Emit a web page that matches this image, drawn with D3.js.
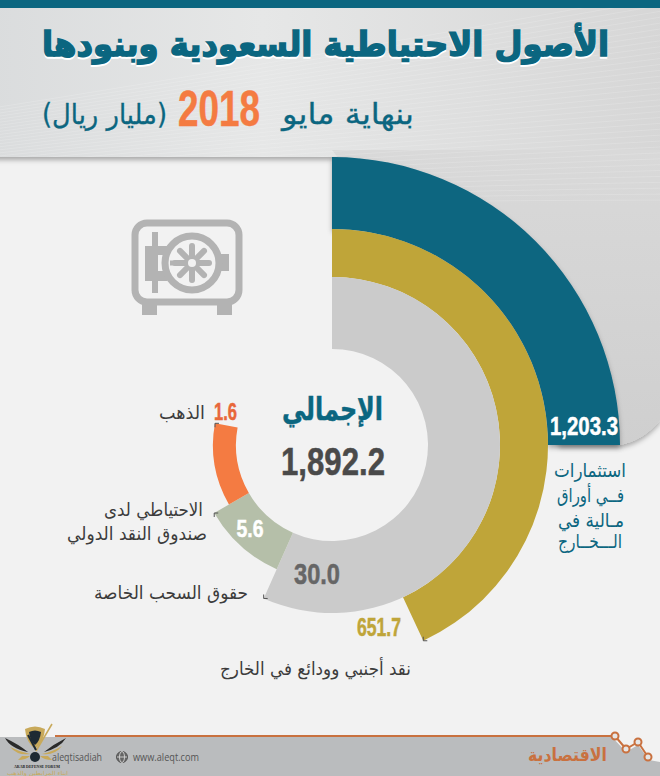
<!DOCTYPE html>
<html>
<head>
<meta charset="utf-8">
<script src="https://cdnjs.cloudflare.com/ajax/libs/d3/7.8.5/d3.min.js"></script>
<style>
html, body { margin: 0; padding: 0; background: #f2f2f2; }
svg { display: block; }
</style>
</head>
<body>
<svg id="chart" width="660" height="776"></svg>
<script>
// values
const CATEGORIES = ['invest', 'cash', 'sdr', 'imf', 'gold'];
const VALUES = [1203.3, 651.7, 30.0, 5.6, 1.6];
const TOTAL = 1892.2;
const TOTAL_LABEL = 'الإجمالي';
const TITLE = 'الأصول الاحتياطية السعودية وبنودها';
const SUBTITLE_A = 'بنهاية مايو';
const SUBTITLE_YEAR = '2018';
const SUBTITLE_B = '(مليار ريال)';

const CX = 332, CY = 445;
const AR_FONT = '"DejaVu Sans", sans-serif';
const NUM_FONT = '"Liberation Sans", sans-serif';
const TEAL = '#0b6680';
const BG = '#f2f2f2';

// the rings are not proportional in the original, angles are measured from the picture
const START_DEG = d3.scaleOrdinal().domain(CATEGORIES).range([0, 0, 0, 204, 240]);
const END_DEG = d3.scaleOrdinal().domain(CATEGORIES).range([90, 155, 204, 240, 280.5]);
const R_INNER = d3.scaleOrdinal().domain(CATEGORIES).range([216, 168, 96, 96, 96]);
const R_OUTER = d3.scaleOrdinal().domain(CATEGORIES).range([288, 216, 168, 136, 119]);
const COLOR = d3.scaleOrdinal().domain(CATEGORIES).range([TEAL, '#bfa539', '#cbcbcb', '#b5bfa9', '#f47b42']);
const FORMAT = d3.format(',.1f');

const svg = d3.select('#chart');
const defs = svg.append('defs');

const header_grad = defs.append('linearGradient').attr('id', 'header_grad')
    .attr('x1', 0).attr('y1', 0).attr('x2', 1).attr('y2', 0);
header_grad.append('stop').attr('offset', '0%').attr('stop-color', '#dadcdd');
header_grad.append('stop').attr('offset', '40%').attr('stop-color', '#e6e7e7');
header_grad.append('stop').attr('offset', '100%').attr('stop-color', '#d6d6d6');

const panel_grad = defs.append('linearGradient').attr('id', 'panel_grad')
    .attr('x1', 0).attr('y1', 0).attr('x2', 0).attr('y2', 1);
panel_grad.append('stop').attr('offset', '0%').attr('stop-color', '#d9d9d9');
panel_grad.append('stop').attr('offset', '100%').attr('stop-color', '#cfcfcf');

const shadow = defs.append('filter').attr('id', 'shadow')
    .attr('x', '-10%').attr('y', '-10%').attr('width', '120%').attr('height', '120%');
shadow.append('feDropShadow').attr('dx', 0).attr('dy', 3).attr('stdDeviation', 2.5)
    .attr('flood-color', '#000').attr('flood-opacity', 0.3);

const PANEL_D = 'M332,150 H660 V420 Q642,442 618,445 H560 Z';

defs.append('clipPath').attr('id', 'stripe_clip').append('path')
    .attr('d', 'M0,8 H660 V420 Q642,442 618,445 H560 L332,157 H0 Z');

// background
svg.append('rect').attr('width', 660).attr('height', 776).attr('fill', BG);

// grey panel behind the outer ring, top right; its right part runs on from the header
svg.append('path').attr('d', PANEL_D).attr('fill', 'url(#panel_grad)').attr('filter', 'url(#shadow)');
svg.append('rect').attr('x', -10).attr('y', 8).attr('width', 680).attr('height', 149)
    .attr('fill', 'url(#header_grad)').attr('filter', 'url(#shadow)');
svg.append('path').attr('d', PANEL_D).attr('fill', 'url(#panel_grad)');

// faint stripes over the header
const stripes = svg.append('g').attr('clip-path', 'url(#stripe_clip)')
    .attr('stroke', '#fff').attr('stroke-opacity', 0.16).attr('fill', 'none');
d3.range(0, 36).forEach(i => {
    stripes.append('path').attr('d', `M${-20},${110 + i * 3} Q300,${60 + i * 4} 680,${-10 + i * 6}`);
});
svg.append('rect').attr('width', 660).attr('height', 8).attr('fill', TEAL);

// rings
const arc = d3.arc();
const rings = svg.append('g').attr('transform', `translate(${CX},${CY})`);
rings.selectAll('path')
    .data(CATEGORIES)
    .join('path')
    .attr('d', c => arc({
        innerRadius: R_INNER(c),
        outerRadius: R_OUTER(c),
        startAngle: START_DEG(c) * Math.PI / 180,
        endAngle: END_DEG(c) * Math.PI / 180
    }))
    .attr('fill', c => COLOR(c))
    .attr('filter', c => c === 'invest' ? 'url(#shadow)' : null);

// small dark corner marks at the ring ends
rings.selectAll('path.mark')
    .data(CATEGORIES.slice(1))
    .join('path')
    .attr('class', 'mark')
    .attr('fill', 'none').attr('stroke', '#555').attr('stroke-width', 1)
    .attr('d', c => {
        const a = END_DEG(c) * Math.PI / 180;
        const r = R_OUTER(c);
        const x = r * Math.sin(a), y = -r * Math.cos(a);
        const dy = (c === 'imf' || c === 'gold') ? 4 : -4;
        return `M${x},${y + dy} L${x},${y} L${x + 4},${y}`;
    });

// text helpers, len is the width measured on the picture
function ar(text, x, y, size, fill, len, opts = {}) {
    return svg.append('text')
        .attr('x', x).attr('y', y)
        .attr('direction', 'rtl')
        .attr('text-anchor', 'start')
        .attr('font-family', AR_FONT)
        .attr('font-size', size)
        .attr('font-weight', opts.weight || 'normal')
        .attr('fill', fill)
        .attr('stroke', opts.stroke ? fill : null)
        .attr('stroke-width', opts.stroke || null)
        .attr('textLength', len)
        .attr('lengthAdjust', 'spacingAndGlyphs')
        .text(text);
}
function num(text, x, y, size, fill, len) {
    return svg.append('text')
        .attr('x', x - len / 2).attr('y', y)
        .attr('font-family', NUM_FONT)
        .attr('font-size', size)
        .attr('font-weight', 'bold')
        .attr('stroke', fill).attr('stroke-width', 0.5)
        .attr('fill', fill)
        .attr('textLength', len)
        .attr('lengthAdjust', 'spacingAndGlyphs')
        .text(text);
}

// title
ar(TITLE, 609, 57.5, 34, '#fff', 567, { weight: 'bold', stroke: 1.6 });
ar(TITLE, 609, 56, 34, TEAL, 567, { weight: 'bold', stroke: 1.6 });
ar(SUBTITLE_A, 414, 124, 29, TEAL, 132, { stroke: 0.3 });
num(SUBTITLE_YEAR, 219, 126, 50, '#f47b42', 82);
ar(SUBTITLE_B, 167, 124, 28, TEAL, 125, { stroke: 0.3 });

// totals
ar(TOTAL_LABEL, 383, 420, 31, TEAL, 101, { weight: 'bold', stroke: 0.5 });
num(FORMAT(TOTAL), 333, 475, 39, '#4a4a4a', 104);

// ring value labels
const VALUE_X = d3.scaleOrdinal().domain(CATEGORIES).range([584, 379, 317, 250, 225.5]);
const VALUE_Y = d3.scaleOrdinal().domain(CATEGORIES).range([435, 636, 584, 537, 420]);
const VALUE_SIZE = d3.scaleOrdinal().domain(CATEGORIES).range([25, 25, 29, 23.5, 23]);
const VALUE_LEN = d3.scaleOrdinal().domain(CATEGORIES).range([68, 44, 46, 27, 23]);
const VALUE_FILL = d3.scaleOrdinal().domain(CATEGORIES).range(['#fff', '#bfa539', '#666', '#fff', '#e8683a']);
CATEGORIES.forEach((c, i) => num(FORMAT(VALUES[i]), VALUE_X(c), VALUE_Y(c), VALUE_SIZE(c), VALUE_FILL(c), VALUE_LEN(c)));

// category labels
const DARK = '#3c3c3c';
ar('الذهب', 205, 419, 18, DARK, 46);
ar('الاحتياطي لدى', 203, 516, 18, DARK, 99);
ar('صندوق النقد الدولي', 207, 540, 18, DARK, 140);
ar('حقوق السحب الخاصة', 248, 599, 18, DARK, 154);
ar('نقد أجنبي وودائع في الخارج', 411, 675, 18, DARK, 191);
ar('استثمارات', 626, 477, 19, TEAL, 72);
ar('فــي أوراق', 624, 502, 19, TEAL, 67);
ar('مـالية في', 624, 527, 19, TEAL, 66);
ar('الـــخــارج', 622, 548, 19, TEAL, 64);

// safe icon
const ICON = '#b3b3b3';
const safe = svg.append('g').attr('fill', ICON).attr('stroke', 'none');
safe.append('rect').attr('x', 135).attr('y', 223).attr('width', 104).attr('height', 79).attr('rx', 12)
    .attr('fill', 'none').attr('stroke', ICON).attr('stroke-width', 7);
safe.append('rect').attr('x', 142).attr('y', 304).attr('width', 15).attr('height', 11);
safe.append('rect').attr('x', 217).attr('y', 304).attr('width', 15).attr('height', 11);
safe.append('rect').attr('x', 152).attr('y', 232).attr('width', 6).attr('height', 61);
safe.append('rect').attr('x', 145).attr('y', 246).attr('width', 22).attr('height', 35);
safe.append('rect').attr('x', 158).attr('y', 255).attr('width', 5).attr('height', 16).attr('fill', BG);
safe.append('rect').attr('x', 218).attr('y', 254).attr('width', 11).attr('height', 17);
safe.append('circle').attr('cx', 192).attr('cy', 263).attr('r', 27)
    .attr('fill', BG).attr('stroke', ICON).attr('stroke-width', 7);
d3.range(8).forEach(i => {
    const a = i * Math.PI / 4;
    safe.append('line')
        .attr('x1', 192).attr('y1', 263)
        .attr('x2', 192 + 17 * Math.cos(a)).attr('y2', 263 + 17 * Math.sin(a))
        .attr('stroke', ICON).attr('stroke-width', 6).attr('stroke-linecap', 'round');
});
safe.append('line').attr('x1', 170).attr('y1', 263).attr('x2', 192).attr('y2', 263)
    .attr('stroke', ICON).attr('stroke-width', 5);
safe.append('circle').attr('cx', 192).attr('cy', 263).attr('r', 4).attr('fill', BG);

// footer
const BRAND = '#c9713f';
svg.append('path')
    .attr('d', 'M0,737 H612 L626,752 L638,745 L649,760 L660,762 V776 H0 Z')
    .attr('fill', '#babcbe');
svg.append('path')
    .attr('d', 'M55,736 H611 M615,736 L626,749 L638,742 L648,757')
    .attr('fill', 'none').attr('stroke', BRAND).attr('stroke-width', 2);
[[615, 736], [626, 749], [638, 742], [648, 757]].forEach(p => {
    svg.append('circle').attr('cx', p[0]).attr('cy', p[1]).attr('r', 3.5)
        .attr('fill', '#e6e6e6').attr('stroke', BRAND).attr('stroke-width', 2);
});
ar('الاقتصادية', 607, 761, 18, BRAND, 79, { weight: 'bold' });
svg.append('text').attr('x', 52).attr('y', 761).attr('font-family', '"Open Sans", sans-serif')
    .attr('font-size', 11).attr('fill', '#555').attr('textLength', 50)
    .attr('lengthAdjust', 'spacingAndGlyphs').text('aleqtisadiah');
svg.append('text').attr('x', 133).attr('y', 761).attr('font-family', '"Open Sans", sans-serif')
    .attr('font-size', 11).attr('fill', '#555').attr('textLength', 66)
    .attr('lengthAdjust', 'spacingAndGlyphs').text('www.aleqt.com');
const globe = svg.append('g').attr('fill', 'none').attr('stroke', '#555').attr('stroke-width', 1);
globe.append('circle').attr('cx', 122).attr('cy', 757).attr('r', 5.5).attr('fill', '#666');
globe.append('ellipse').attr('cx', 122).attr('cy', 757).attr('rx', 2.5).attr('ry', 5.5).attr('stroke', '#ccc');
globe.append('line').attr('x1', 117).attr('y1', 757).attr('x2', 127).attr('y2', 757).attr('stroke', '#ccc');

// forum watermark, bottom left
const wm = svg.append('g');
wm.append('path').attr('d', 'M25,729 Q35,724 45,729 Q44,742 35,749 Q26,742 25,729 Z').attr('fill', '#c8a95a');
wm.append('path').attr('d', 'M29,732 Q35,729 41,732 Q40,741 35,745 Q30,741 29,732 Z').attr('fill', '#1e2a33');
wm.append('path').attr('d', 'M36,751 L52,724').attr('stroke', '#c8a95a').attr('stroke-width', 1.5).attr('fill', 'none');
wm.append('path').attr('d', 'M28,735 L36,750').attr('stroke', '#1e2a33').attr('stroke-width', 2).attr('fill', 'none');
wm.append('path').attr('d', 'M5,738 Q10,748 28,752 Q18,744 5,738 Z M66,738 Q60,748 44,752 Q54,744 66,738 Z').attr('fill', '#2a2a2a');
wm.append('path').attr('d', 'M10,747 Q18,756 30,754 Q20,752 10,747 Z M62,746 Q54,756 42,754 Q52,752 62,746 Z').attr('fill', '#c8a95a');
wm.append('path').attr('d', 'M18,760 Q26,760 30,756 L22,756 Z M52,760 Q44,760 40,756 L48,756 Z').attr('fill', '#c8a95a');
wm.append('circle').attr('cx', 35).attr('cy', 757).attr('r', 5).attr('fill', '#1e2a33');
wm.append('text').attr('x', 14).attr('y', 768)
    .attr('font-family', '"Liberation Serif", serif').attr('font-weight', 'bold')
    .attr('font-size', 5).attr('fill', '#222')
    .attr('textLength', 46).attr('lengthAdjust', 'spacingAndGlyphs').text('ARAB DEFENSE FORUM');
ar('ابناء المرابطين والذهب', 68, 775, 5.5, '#c8a95a', 61);
</script>
</body>
</html>
